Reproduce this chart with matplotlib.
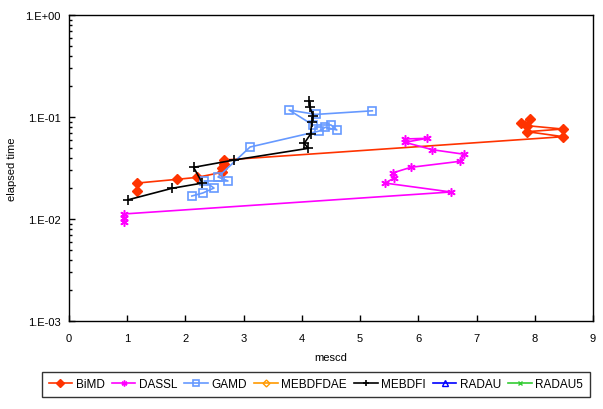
import matplotlib
matplotlib.use("Agg")
import matplotlib.pyplot as plt
from matplotlib.ticker import LogLocator, FixedLocator, NullFormatter
import numpy as np

plt.rcParams['font.family'] = ['Liberation Sans', 'DejaVu Sans']
plt.rcParams['font.size'] = 8

# ---- data (mescd, elapsed time) ----
bimd_x = [1.17, 1.17, 1.86, 2.20, 2.63, 2.63, 2.66, 2.67, 8.49, 7.87, 8.48, 7.87, 7.77, 7.92]
bimd_y = [0.0187, 0.0225, 0.0245, 0.0256, 0.0287, 0.0314, 0.0346, 0.0379, 0.0641, 0.0718, 0.0762, 0.0822, 0.0873, 0.0955]

dassl_x = [0.94, 0.94, 0.94, 6.56, 5.43, 5.58, 5.56, 5.87, 6.72, 6.79, 6.24, 5.77, 6.15, 5.77]
dassl_y = [0.0094, 0.0102, 0.0112, 0.0184, 0.0225, 0.0252, 0.0283, 0.0321, 0.0368, 0.0431, 0.0478, 0.0565, 0.0618, 0.0609]

gamd_x = [2.11, 2.30, 2.49, 2.32, 2.73, 2.56, 3.11, 4.30, 4.40, 4.60, 4.50, 4.19, 3.78, 4.24, 5.21]
gamd_y = [0.0168, 0.0180, 0.0201, 0.0236, 0.0236, 0.0258, 0.0508, 0.0729, 0.0793, 0.0746, 0.0835, 0.0835, 0.117, 0.106, 0.115]

mebdfi_x = [1.01, 1.77, 2.29, 2.14, 2.84, 4.11, 4.04, 4.15, 4.17, 4.19, 4.14, 4.13]
mebdfi_y = [0.0154, 0.0200, 0.0225, 0.0321, 0.0379, 0.0493, 0.0552, 0.0681, 0.0887, 0.103, 0.124, 0.143]

mebdfdae_x, mebdfdae_y = [], []
radau_x, radau_y = [], []
radau5_x, radau5_y = [], []

series_names = ["BiMD", "DASSL", "GAMD", "MEBDFDAE", "MEBDFI", "RADAU", "RADAU5"]
x_ticks = [0, 1, 2, 3, 4, 5, 6, 7, 8, 9]
y_ticks = [1e-3, 1e-2, 1e-1, 1e0]
y_tick_labels = ["1.E-03", "1.E-02", "1.E-01", "1.E+00"]

fig = plt.figure(figsize=(6.03, 4.10), dpi=100)
ax = fig.add_axes([69/603, 1-322/410, (593-69)/603, (322-16)/410])

lw = 1.2
ax.plot(bimd_x, bimd_y, color='#FF3300', lw=lw, marker='D', ms=5.5, mfc='#FF3300', mec='#FF3300', label=series_names[0])
ax.plot(dassl_x, dassl_y, color='#FF00FF', lw=lw, marker=(6, 2, 0), ms=6, mec='#FF00FF', mew=1.1, label=series_names[1])
ax.plot(gamd_x, gamd_y, color='#6699FF', lw=lw, marker='s', ms=6, mfc='none', mec='#6699FF', mew=1.2, label=series_names[2])
ax.plot(mebdfdae_x, mebdfdae_y, color='#FF9900', lw=lw, marker='D', ms=5, mfc='none', mec='#FF9900', label=series_names[3])
ax.plot(mebdfi_x, mebdfi_y, color='black', lw=lw, marker='+', ms=7, mew=1.2, label=series_names[4])
ax.plot(radau_x, radau_y, color='#0000FF', lw=lw, marker='^', ms=6, mfc='none', mec='#0000FF', label=series_names[5])
ax.plot(radau5_x, radau5_y, color='#33CC33', lw=lw, marker='x', ms=5, label=series_names[6])

ax.set_yscale('log')
ax.set_xlim(0, 9)
ax.set_ylim(1e-3, 1e0)
ax.xaxis.set_major_locator(FixedLocator(x_ticks))
ax.set_xticklabels([str(t) for t in x_ticks])
ax.yaxis.set_major_locator(FixedLocator(y_ticks))
ax.set_yticklabels(y_tick_labels)
ax.yaxis.set_minor_locator(LogLocator(base=10, subs=np.arange(2, 10)))
ax.yaxis.set_minor_formatter(NullFormatter())
ax.tick_params(axis='both', which='major', direction='in', length=4, width=1, labelsize=8)
ax.tick_params(axis='y', which='minor', direction='in', length=2, width=1)
ax.tick_params(axis='x', which='major', pad=9)
ax.tick_params(axis='y', which='major', pad=6)
for s in ax.spines.values():
    s.set_linewidth(1)
ax.set_xlabel("mescd", fontsize=8, labelpad=6)
ax.set_ylabel("elapsed time", fontsize=8, labelpad=6)

leg = fig.legend(loc='center', bbox_to_anchor=(316/603, 1-385.5/410), ncol=7,
                 frameon=True, fancybox=False, edgecolor='black', fontsize=8.5,
                 handlelength=2.0, columnspacing=0.6, handletextpad=0.3,
                 borderpad=0.55, borderaxespad=0, markerscale=0.7)
leg.get_frame().set_linewidth(1)

fig.savefig("out.png", dpi=100)
